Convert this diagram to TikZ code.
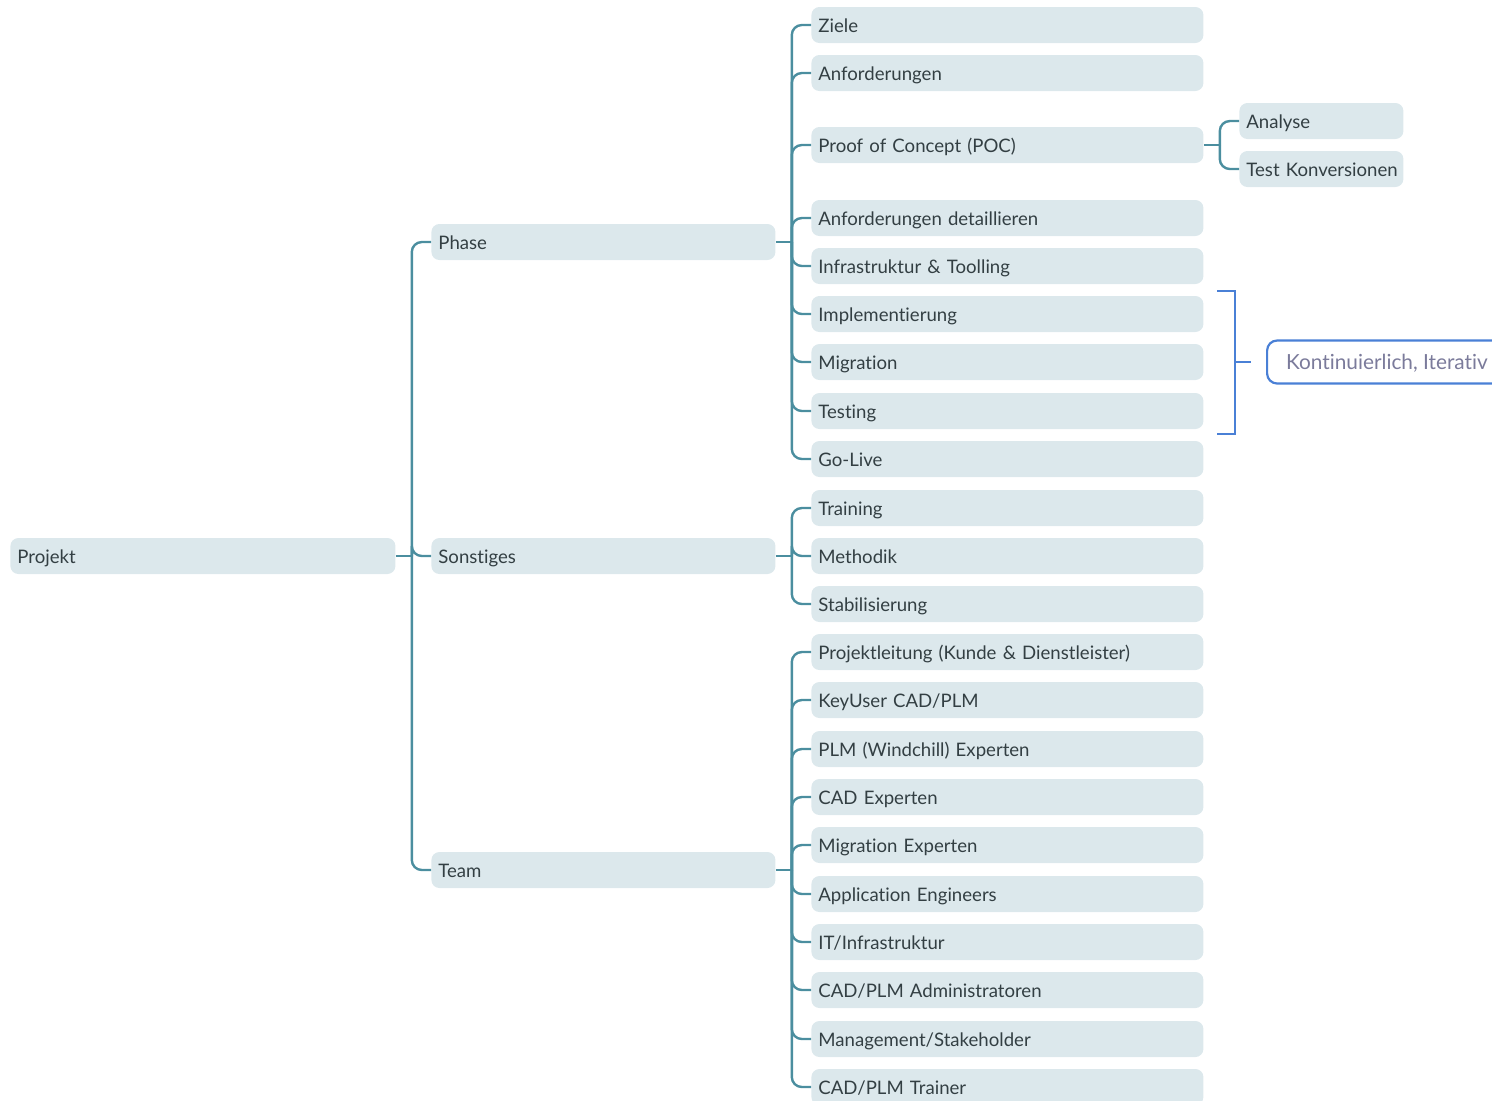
\documentclass[tikz,border=0pt]{standalone}
\usepackage{fontspec}
\setmainfont{Lato}[Ligatures=NoCommon]

\definecolor{boxfill}{HTML}{DCE8EC}
\definecolor{linie}{HTML}{4B8E9F}
\definecolor{schrift}{HTML}{333F43}
\definecolor{klammer}{HTML}{4A80D6}
\definecolor{hinweis}{HTML}{7B7B9B}

\tikzset{
box/.style={fill=boxfill,rounded corners=4pt,anchor=west,minimum height=18pt,
  inner xsep=3.5pt,inner ysep=0pt,text=schrift,align=left,
  text height=7pt,text depth=0pt,font={\fontsize{9.3}{11}\selectfont\hyphenpenalty=10000\relax}},
w0/.style={box,text width=185.5pt},
w1/.style={box,text width=165pt},
w2/.style={box,text width=189pt},
w3/.style={box,text width=75pt},
ast/.style={draw=linie,line width=1.2pt,rounded corners=5pt},
kont/.style={draw=klammer,fill=white,line width=1.1pt,rounded corners=5pt,anchor=west,
  minimum height=21.5pt,inner xsep=9.5pt,text=hinweis,text height=7pt,text depth=0pt,
  font=\fontsize{10.4}{12}\selectfont}
}

\begin{document}
\begin{tikzpicture}[x=0.5pt,y=-0.5pt]
\useasboundingbox (0,0) rectangle (1492,1100);
\clip (0,0) rectangle (1492,1100);

\node[w0] (projekt) at (10,556) {Projekt};

\node[w1] (phase) at (431,242) {Phase};
\node[w1] (sonst) at (431,556) {Sonstiges};
\node[w1] (team) at (431,870) {Team};

% Phase
\node[w2] (ziele) at (811,25) {Ziele};
\node[w2] (anf) at (811,73) {Anforderungen};
\node[w2] (poc) at (811,145) {Proof of Concept (POC)};
\node[w2] (anfdet) at (811,218) {Anforderungen detaillieren};
\node[w2] (infra) at (811,266) {Infrastruktur \& Toolling};
\node[w2] (impl) at (811,314) {Implementierung};
\node[w2] (migr) at (811,362) {Migration};
\node[w2] (test) at (811,411) {Testing};
\node[w2] (golive) at (811,459) {Go-Live};

\node[w3] (analyse) at (1239,121) {Analyse};
\node[w3] (konv) at (1239,169) {\makebox[75pt][l]{Test Konversionen}};

% Sonstiges
\node[w2] (train) at (811,508) {Training};
\node[w2] (meth) at (811,556) {Methodik};
\node[w2] (stab) at (811,604) {Stabilisierung};

% Team
\node[w2] (pl) at (811,652) {Projektleitung (Kunde \& Dienstleister)};
\node[w2] (key) at (811,700) {KeyUser CAD/PLM};
\node[w2] (plm) at (811,749) {PLM (Windchill) Experten};
\node[w2] (cad) at (811,797) {CAD Experten};
\node[w2] (migex) at (811,845) {Migration Experten};
\node[w2] (appeng) at (811,894) {Application Engineers};
\node[w2] (it) at (811,942) {IT/Infrastruktur};
\node[w2] (admin) at (811,990) {CAD/PLM Administratoren};
\node[w2] (mgmt) at (811,1039) {Management/Stakeholder};
\node[w2] (trainer) at (811,1087) {CAD/PLM Trainer};

% Aeste
\draw[ast] (projekt.east) -- ++(16,0) coordinate (j0);
\foreach \k in {phase,sonst,team} \draw[ast] (j0) |- (\k.west);

\draw[ast] (phase.east) -- ++(16,0) coordinate (j1);
\foreach \k in {ziele,anf,poc,anfdet,infra,impl,migr,test,golive} \draw[ast] (j1) |- (\k.west);

\draw[ast] (sonst.east) -- ++(16,0) coordinate (j2);
\foreach \k in {train,meth,stab} \draw[ast] (j2) |- (\k.west);

\draw[ast] (team.east) -- ++(16,0) coordinate (j3);
\foreach \k in {pl,key,plm,cad,migex,appeng,it,admin,mgmt,trainer} \draw[ast] (j3) |- (\k.west);

\draw[ast] (poc.east) -- ++(16,0) coordinate (j4);
\foreach \k in {analyse,konv} \draw[ast] (j4) |- (\k.west);

% Klammer
\node[kont] (kon) at (1266,362) {Kontinuierlich, Iterativ};
\draw[klammer,line width=1.1pt] (1217,291) -- (1235,291) -- (1235,434) -- (1217,434);
\coordinate (kl) at (1235,362);
\draw[klammer,line width=1.1pt] (kl) -- ([xshift=-7.5pt]kon.west);
\end{tikzpicture}
\end{document}
